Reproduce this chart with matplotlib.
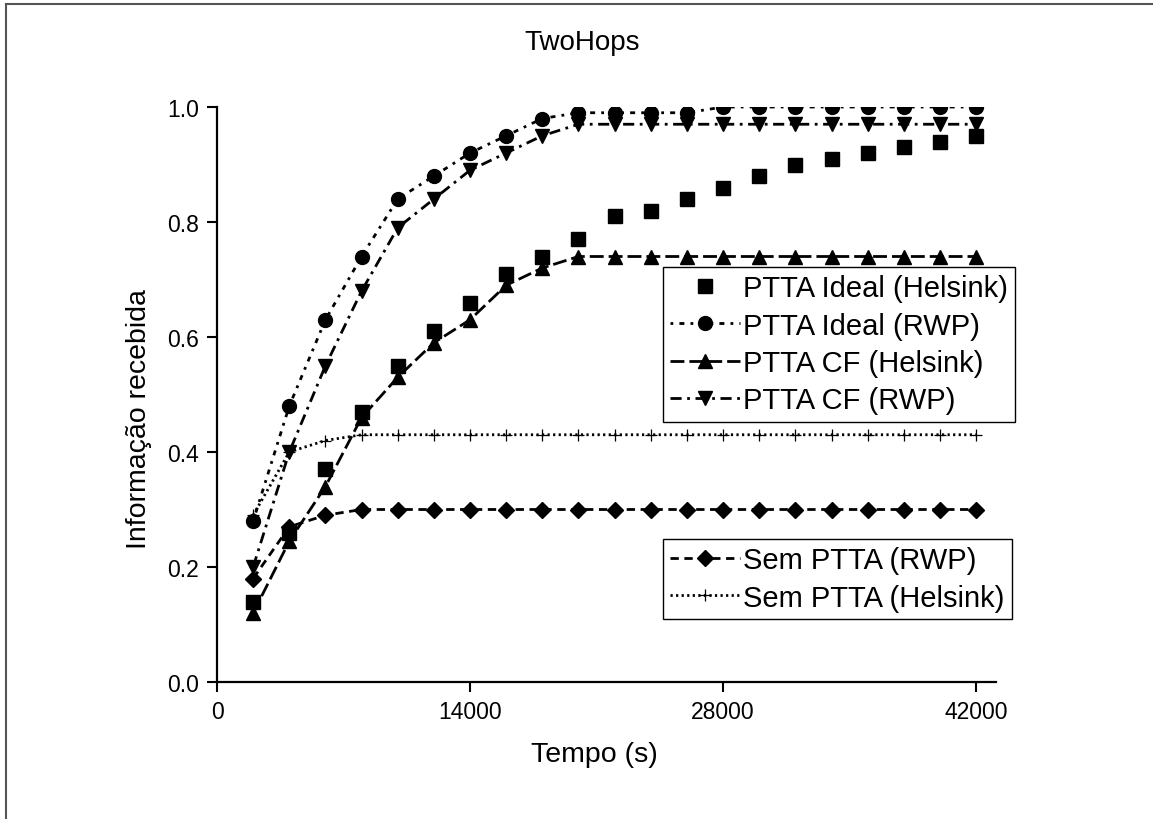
import matplotlib
matplotlib.use("Agg")
import matplotlib.pyplot as plt
from matplotlib.lines import Line2D

plt.rcParams['font.family'] = ['Liberation Sans', 'DejaVu Sans']

tempo = [2000, 4000, 6000, 8000, 10000, 12000, 14000, 16000, 18000, 20000, 22000,
         24000, 26000, 28000, 30000, 32000, 34000, 36000, 38000, 40000, 42000]

ideal_helsink = [0.14, 0.26, 0.37, 0.47, 0.55, 0.61, 0.66, 0.71, 0.74, 0.77, 0.81,
                 0.82, 0.84, 0.86, 0.88, 0.90, 0.91, 0.92, 0.93, 0.94, 0.95]
ideal_rwp = [0.28, 0.48, 0.63, 0.74, 0.84, 0.88, 0.92, 0.95, 0.98, 0.99, 0.99,
             0.99, 0.99, 1.0, 1.0, 1.0, 1.0, 1.0, 1.0, 1.0, 1.0]
cf_helsink = [0.12, 0.245, 0.34, 0.46, 0.53, 0.59, 0.63, 0.69, 0.72, 0.74, 0.74,
              0.74, 0.74, 0.74, 0.74, 0.74, 0.74, 0.74, 0.74, 0.74, 0.74]
cf_rwp = [0.20, 0.40, 0.55, 0.68, 0.79, 0.84, 0.89, 0.92, 0.95, 0.97, 0.97,
          0.97, 0.97, 0.97, 0.97, 0.97, 0.97, 0.97, 0.97, 0.97, 0.97]
sem_rwp = [0.18, 0.27, 0.29, 0.30, 0.30, 0.30, 0.30, 0.30, 0.30, 0.30, 0.30,
           0.30, 0.30, 0.30, 0.30, 0.30, 0.30, 0.30, 0.30, 0.30, 0.30]
sem_helsink = [0.29, 0.40, 0.42, 0.43, 0.43, 0.43, 0.43, 0.43, 0.43, 0.43, 0.43,
               0.43, 0.43, 0.43, 0.43, 0.43, 0.43, 0.43, 0.43, 0.43, 0.43]

x_ticks = [0, 14000, 28000, 42000]
y_ticks = [0.0, 0.2, 0.4, 0.6, 0.8, 1.0]

fig = plt.figure(figsize=(11.53, 8.2), dpi=100)
ax = fig.add_axes([217/1153, 1-683/820, (996-217)/1153, (683-108)/820])

lw = 2.0
h1, = ax.plot(tempo, ideal_helsink, linestyle='none', marker='s', ms=9.5, color='black',
              label='PTTA Ideal (Helsink)')
h2, = ax.plot(tempo, ideal_rwp, linestyle=(0, (1, 2.2, 1.8, 2.2)), lw=lw, marker='o', ms=10,
              color='black', label='PTTA Ideal (RWP)')
h3, = ax.plot(tempo, cf_helsink, linestyle=(0, (5, 1.8)), lw=lw, marker='^', ms=10.5,
              color='black', label='PTTA CF (Helsink)')
h4, = ax.plot(tempo, cf_rwp, linestyle=(0, (4, 2, 1, 2)), lw=lw, marker='v', ms=10.5,
              color='black', label='PTTA CF (RWP)')
h5, = ax.plot(tempo, sem_rwp, linestyle=(0, (3, 2)), lw=lw, marker='D', ms=8.5,
              color='black', label='Sem PTTA (RWP)')
h6, = ax.plot(tempo, sem_helsink, linestyle=(0, (0.8, 1.2)), lw=lw, marker='+', ms=9,
              mew=0.9, color='black', label='Sem PTTA (Helsink)')

ax.set_xlim(0, 43100)
ax.set_ylim(0, 1.0)
ax.set_xticks(x_ticks)
ax.set_xticklabels([str(v) for v in x_ticks])
ax.set_yticks(y_ticks)
ax.set_yticklabels([f'{v:.1f}' for v in y_ticks])
ax.spines['top'].set_visible(False)
ax.spines['right'].set_visible(False)
ax.spines['left'].set_linewidth(1.6)
ax.spines['bottom'].set_linewidth(1.6)
ax.tick_params(direction='out', length=7, width=1.5, labelsize=16.5, pad=6)

ax.set_xlabel('Tempo (s)', fontsize=20.5)
ax.set_ylabel('Informação recebida', fontsize=20.5)
ax.xaxis.set_label_coords(0.484, -0.1026)
ax.yaxis.set_label_coords(-0.084, 0.459)
fig.text(582/1153, 1-43/820, 'TwoHops', fontsize=20, ha='center', va='center')

common = dict(fontsize=21, frameon=True, fancybox=False, framealpha=1, edgecolor='black',
              handlelength=2.4, handletextpad=0.1, labelspacing=0.32, borderpad=0.25,
              borderaxespad=0, numpoints=1)
leg1 = ax.legend(handles=[h1, h2, h3, h4], loc='upper left',
                 bbox_to_anchor=(663/1153, 1-268/820), bbox_transform=fig.transFigure, **common)
leg1.get_frame().set_linewidth(1.0)
ax.add_artist(leg1)
leg2 = ax.legend(handles=[h5, h6], loc='upper left',
                 bbox_to_anchor=(663/1153, 1-540/820), bbox_transform=fig.transFigure, **common)
leg2.get_frame().set_linewidth(1.0)

fig.add_artist(Line2D([6/1153, 1.0], [1-5/820, 1-5/820], transform=fig.transFigure,
                      color='#555555', lw=1.5))
fig.add_artist(Line2D([6/1153, 6/1153], [0, 1-5/820], transform=fig.transFigure,
                      color='#555555', lw=1.5))

fig.savefig('out.png', dpi=100)
